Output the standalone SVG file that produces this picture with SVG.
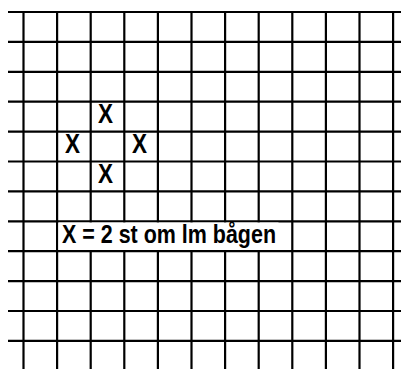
<svg xmlns="http://www.w3.org/2000/svg" width="401" height="369" viewBox="0 0 401 369">
<style>
.g line{stroke:#000;stroke-width:2.2}
.t{font-family:"Liberation Sans",Arial,sans-serif;font-weight:bold;fill:#000}
</style>
<rect width="401" height="369" fill="#fff"/>
<g id="grid" class="g">
<line x1="8" y1="12" x2="401" y2="12"/>
<line x1="8" y1="41.9" x2="401" y2="41.9"/>
<line x1="8" y1="71.8" x2="401" y2="71.8"/>
<line x1="8" y1="101.7" x2="401" y2="101.7"/>
<line x1="8" y1="131.6" x2="401" y2="131.6"/>
<line x1="8" y1="161.5" x2="401" y2="161.5"/>
<line x1="8" y1="191.4" x2="401" y2="191.4"/>
<line x1="8" y1="221.3" x2="401" y2="221.3"/>
<line x1="8" y1="251.2" x2="401" y2="251.2"/>
<line x1="8" y1="281.1" x2="401" y2="281.1"/>
<line x1="8" y1="311" x2="401" y2="311"/>
<line x1="8" y1="340.9" x2="401" y2="340.9"/>
<line x1="23.5" y1="12" x2="23.5" y2="369"/>
<line x1="57.1" y1="12" x2="57.1" y2="369"/>
<line x1="90.7" y1="12" x2="90.7" y2="369"/>
<line x1="124.3" y1="12" x2="124.3" y2="369"/>
<line x1="157.9" y1="12" x2="157.9" y2="369"/>
<line x1="191.5" y1="12" x2="191.5" y2="369"/>
<line x1="225.1" y1="12" x2="225.1" y2="369"/>
<line x1="258.7" y1="12" x2="258.7" y2="369"/>
<line x1="292.3" y1="12" x2="292.3" y2="369"/>
<line x1="325.9" y1="12" x2="325.9" y2="369"/>
<line x1="359.5" y1="12" x2="359.5" y2="369"/>
<line x1="393.1" y1="12" x2="393.1" y2="369"/>
</g>
<g id="legend">
<rect x="58.5" y="222.5" width="220" height="27.5" fill="#fff"/>
<text class="t" x="62" y="243" font-size="26" textLength="214" lengthAdjust="spacingAndGlyphs">X = 2 st om lm bågen</text>
</g>
<g id="marks">
<text class="t" x="98" y="123" font-size="27" textLength="15" lengthAdjust="spacingAndGlyphs">X</text>
<text class="t" x="65" y="153" font-size="27" textLength="15" lengthAdjust="spacingAndGlyphs">X</text>
<text class="t" x="132" y="153" font-size="27" textLength="15" lengthAdjust="spacingAndGlyphs">X</text>
<text class="t" x="98" y="183" font-size="27" textLength="15" lengthAdjust="spacingAndGlyphs">X</text>
</g>
</svg>
